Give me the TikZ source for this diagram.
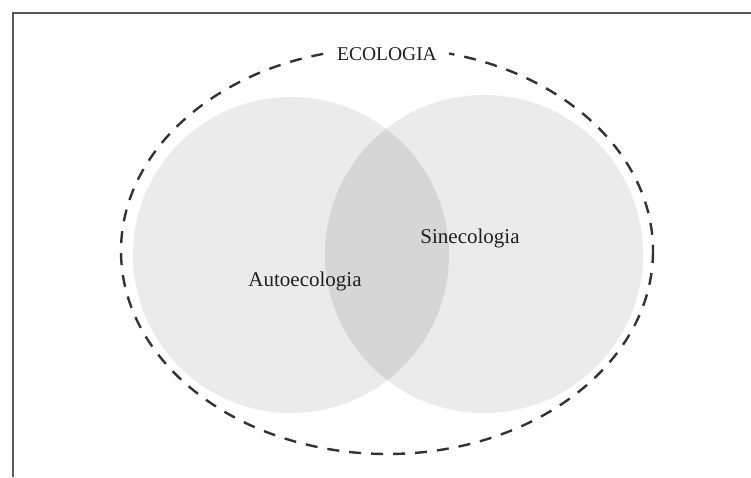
\documentclass[tikz,border=0pt]{standalone}
\usepackage{fontspec}
\setmainfont{Liberation Serif}
\begin{document}
\begin{tikzpicture}[x=1pt,y=-1pt]

\colorlet{cField}{black!8}
\colorlet{cMeet}{black!16}
\colorlet{cDash}{black!80}

\tikzset{
  fieldname/.style = {font=\fontsize{21}{25}\selectfont, text=black!88, anchor=base},
  wholeline/.style = {cDash, line width=2.4pt, dash pattern=on 12pt off 10pt},
}

\useasboundingbox (0,0) rectangle (751,477);

%% ---------- frame ----------
\draw[black!65, line width=1.2pt] (13,477) -- (13,13) -- (751,13);

%% ---------- the two fields ----------
\fill[cField] (291,255) circle (158);
\fill[cField] (484,254) circle (159);
\begin{scope}
  \clip (291,255) circle (158);
  \fill[cMeet] (484,254) circle (159);
\end{scope}

%% ---------- ecology, dashed ----------
\draw[wholeline] (387,251) ellipse (266 and 203);

\node[fieldname, font=\fontsize{19.5}{23}\selectfont, fill=white, inner xsep=12pt] (ecologia) at (387,60) {ECOLOGIA};

%% ---------- names ----------
\node[fieldname] (auto) at (305,286) {Autoecologia};
\node[fieldname] (sine) at (470,243) {Sinecologia};

\end{tikzpicture}
\end{document}
